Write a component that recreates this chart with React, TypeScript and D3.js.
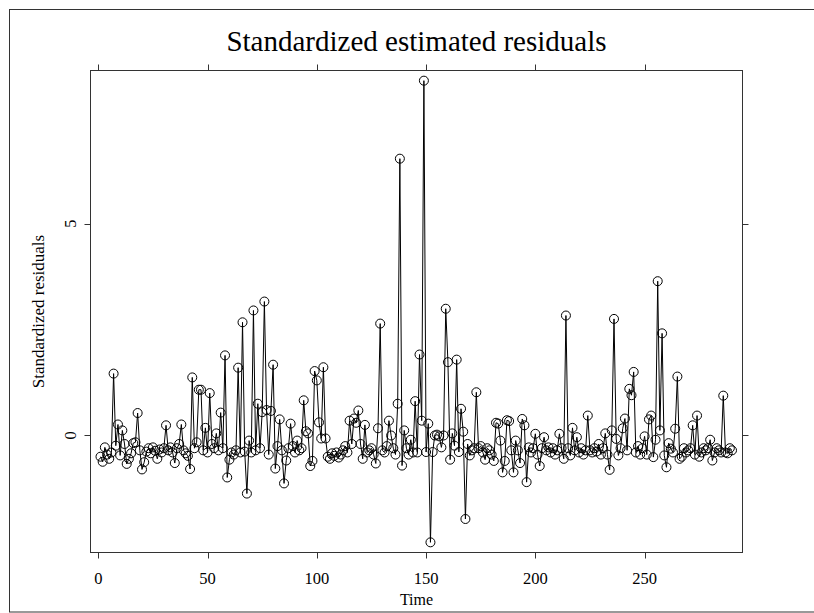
import React from "react";
import * as d3 from "d3";

const residuals: number[] = [
  -0.50, -0.62, -0.28, -0.45, -0.55, -0.40, 1.46, -0.24, 0.26, -0.47,
  0.12, -0.20, -0.67, -0.55, -0.42, -0.18, -0.16, 0.53, -0.35, -0.80,
  -0.63, -0.38, -0.30, -0.42, -0.28, -0.36, -0.55, -0.33, -0.40, -0.30,
  0.24, -0.35, -0.28, -0.40, -0.65, -0.30, -0.20, 0.26, -0.35, -0.42,
  -0.48, -0.79, 1.37, -0.30, -0.16, 1.08, 1.08, -0.35, 0.18, -0.40,
  1.00, -0.20, -0.30, 0.05, -0.35, 0.54, -0.30, 1.89, -0.99, -0.57,
  -0.40, -0.45, -0.35, 1.60, -0.40, 2.67, -0.38, -1.37, -0.12, -0.40,
  2.95, -0.35, 0.75, -0.30, 0.55, 3.16, 0.60, -0.45, 0.58, 1.67,
  -0.78, -0.25, 0.38, -0.35, -1.13, -0.59, -0.30, 0.28, -0.25, -0.40,
  -0.12, -0.35, -0.30, 0.83, 0.10, 0.05, -0.72, -0.60, 1.52, 1.30,
  0.31, -0.07, 1.61, -0.07, -0.50, -0.55, -0.42, -0.48, -0.40, -0.52,
  -0.45, -0.35, -0.25, -0.40, 0.35, -0.20, 0.40, 0.30, 0.59, -0.20,
  -0.55, 0.25, -0.40, -0.35, -0.30, -0.45, -0.66, 0.17, 2.64, -0.35,
  -0.40, -0.25, 0.35, 0.00, -0.30, -0.45, 0.75, 6.53, -0.71, 0.12,
  -0.30, -0.45, -0.10, -0.40, 0.81, -0.40, 1.91, 0.35, 8.37, -0.39,
  0.28, -2.52, -0.39, 0.00, 0.02, -0.02, -0.28, 0.00, 2.99, 1.73,
  -0.57, 0.05, -0.24, 1.79, -0.39, 0.63, 0.09, -1.97, -0.20, -0.47,
  -0.35, -0.30, 1.02, -0.30, -0.25, -0.40, -0.57, -0.30, -0.35, -0.45,
  -0.60, 0.30, 0.28, -0.12, -0.87, -0.60, 0.36, 0.34, -0.35, -0.87,
  -0.12, -0.35, -0.65, 0.39, 0.24, -1.10, -0.28, -0.40, -0.30, 0.04,
  -0.45, -0.72, -0.30, -0.04, -0.35, -0.28, -0.40, -0.30, -0.45, -0.35,
  0.04, -0.30, -0.55, 2.83, -0.30, -0.47, 0.18, -0.35, -0.04, -0.40,
  -0.30, -0.45, -0.35, 0.47, -0.35, -0.40, -0.30, -0.38, -0.20, -0.45,
  -0.30, 0.05, -0.45, -0.81, 0.12, 2.75, -0.08, -0.47, -0.30, 0.17,
  0.40, -0.35, 1.10, 0.95, 1.50, -0.40, -0.25, -0.45, -0.30, -0.02,
  -0.45, 0.38, 0.47, -0.51, -0.10, 3.64, 0.12, 2.41, -0.47, -0.75,
  -0.18, -0.31, -0.40, 0.16, 1.39, -0.55, -0.50, -0.30, -0.40, -0.35,
  -0.30, 0.24, -0.45, 0.47, -0.50, -0.40, -0.30, -0.35, -0.30, -0.10,
  -0.59, -0.40, -0.30, -0.35, -0.40, 0.94, -0.40, -0.42, -0.30, -0.35,
];

const xTicks: number[] = [0, 50, 100, 150, 200, 250];
const yTicks: number[] = [0, 5];
const titleText = "Standardized estimated residuals";
const xLabel = "Time";
const yLabel = "Standardized residuals";

const W = 814;
const H = 613;
const L = 90.5;
const R = 742.5;
const T = 70.5;
const B = 552.5;
const FONT = "'Liberation Serif', 'DejaVu Serif', serif";

export default function App() {
  const data = residuals.map((v, i) => ({ t: i + 1, v }));
  const x = d3.scaleLinear().domain([-3.57, 294.8]).range([L, R]);
  const y = d3.scaleLinear().domain([-2.76, 8.61]).range([B, T]);
  const line = d3
    .line<{ t: number; v: number }>()
    .x((d) => x(d.t))
    .y((d) => y(d.v));

  return (
    <svg
      width={W}
      height={H}
      style={{ position: "absolute", left: 0, top: 0, background: "#fff" }}
      fontFamily={FONT}
    >
      <rect x={9.5} y={9.5} width={W} height={602.5} fill="none" stroke="#333" strokeWidth={1} />
      <text x={(L + R) / 2} y={51} textAnchor="middle" fontSize={29} fill="#000">
        {titleText}
      </text>
      <rect x={L} y={T} width={R - L} height={B - T} fill="none" stroke="#333" strokeWidth={1} />
      {xTicks.map((t) => (
        <g key={"x" + t}>
          <line x1={Math.round(x(t)) + 0.5} x2={Math.round(x(t)) + 0.5} y1={B} y2={B + 6} stroke="#333" />
          <line x1={Math.round(x(t)) + 0.5} x2={Math.round(x(t)) + 0.5} y1={T} y2={T - 6} stroke="#333" />
          <text x={x(t)} y={584} textAnchor="middle" fontSize={16.5} fill="#000">
            {t}
          </text>
        </g>
      ))}
      {yTicks.map((t) => (
        <g key={"y" + t}>
          <line x1={L} x2={L - 6} y1={Math.round(y(t)) + 0.5} y2={Math.round(y(t)) + 0.5} stroke="#333" />
          <line x1={R} x2={R + 6} y1={Math.round(y(t)) + 0.5} y2={Math.round(y(t)) + 0.5} stroke="#333" />
          <text
            transform={`translate(76,${y(t)}) rotate(-90)`}
            textAnchor="middle"
            fontSize={16.5}
            fill="#000"
          >
            {t}
          </text>
        </g>
      ))}
      <text x={(L + R) / 2} y={605} textAnchor="middle" fontSize={16} fill="#000">
        {xLabel}
      </text>
      <text
        transform={`translate(44,${(T + B) / 2}) rotate(-90)`}
        textAnchor="middle"
        fontSize={17}
        fill="#000"
      >
        {yLabel}
      </text>
      <path d={line(data) || ""} fill="none" stroke="#000" strokeWidth={1} />
      {data.map((d) => (
        <circle key={d.t} cx={x(d.t)} cy={y(d.v)} r={4.5} fill="none" stroke="#000" strokeWidth={1} />
      ))}
    </svg>
  );
}
